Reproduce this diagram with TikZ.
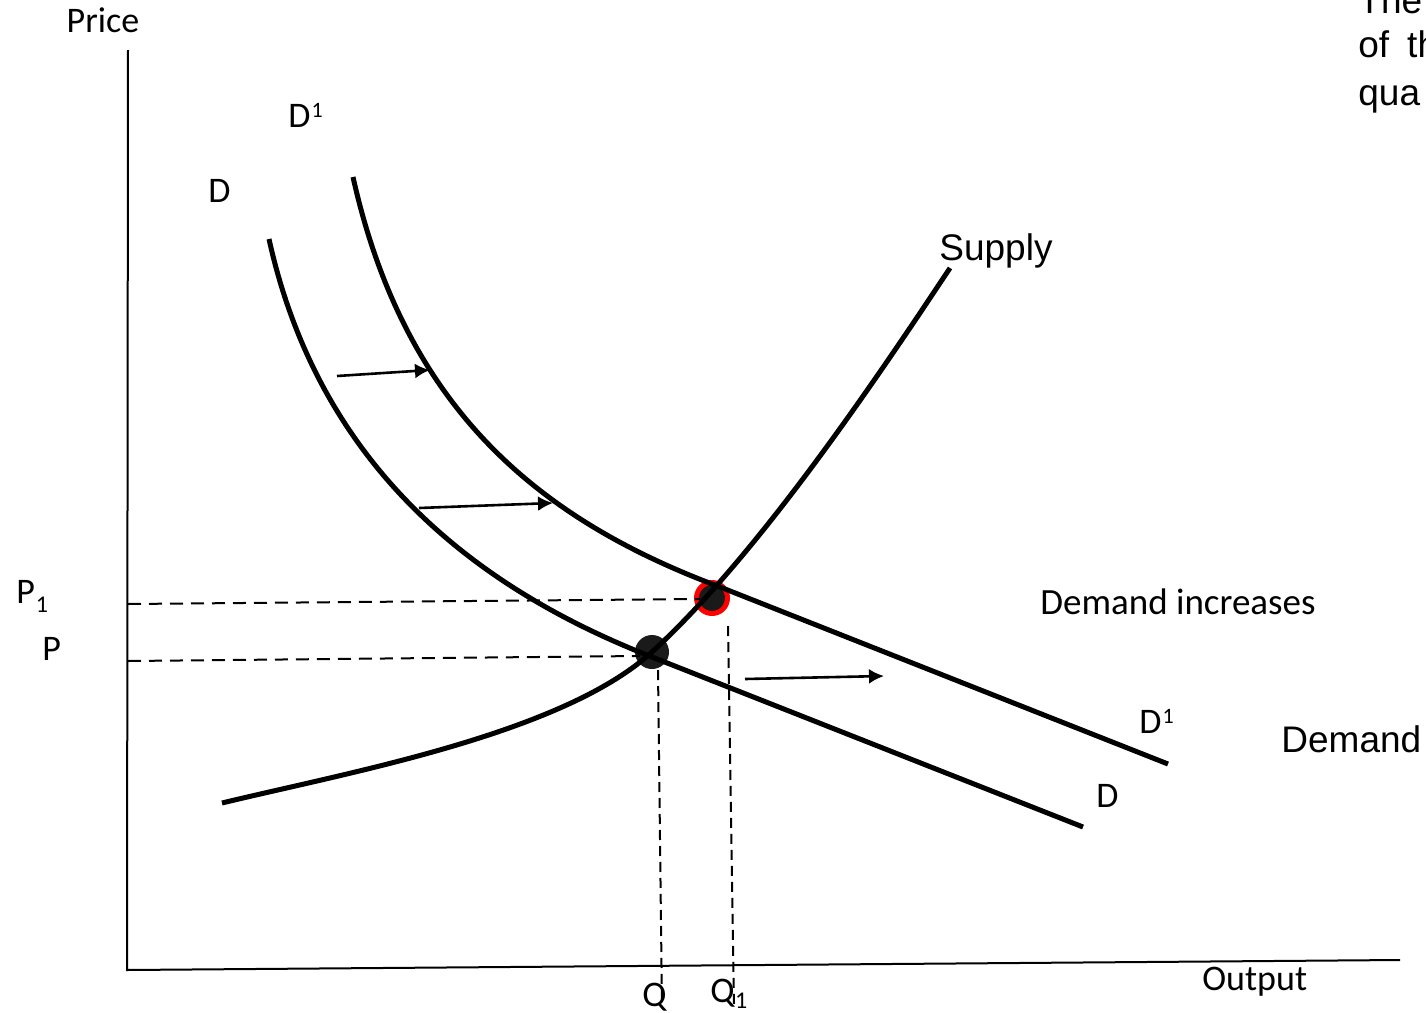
\documentclass[tikz,border=0pt]{standalone}
\usepackage{fontspec}
\setmainfont{Carlito}
\newfontfamily\arialfont{Liberation Sans}
\usetikzlibrary{arrows.meta}
\definecolor{dotblack}{HTML}{1A1A1A}
\definecolor{ringred}{HTML}{FF0000}
\newcommand{\supone}{\raisebox{5pt}{\fontsize{11}{11}\selectfont 1}}
\newcommand{\subone}{\raisebox{-4.5pt}{\fontsize{12}{12}\selectfont 1}}
\newcommand{\subonehi}{\raisebox{-3pt}{\fontsize{12}{12}\selectfont 1}}
\begin{document}
\begin{tikzpicture}[x=0.5pt,y=-0.5pt,
  lbl/.style={inner sep=0pt,anchor=base west,font=\fontsize{18}{22}\selectfont},
  albl/.style={inner sep=0pt,anchor=base west,font=\arialfont\fontsize{18.5}{22}\selectfont},
  axisline/.style={line width=1pt},
  curve/.style={line width=2.5pt},
  guide/.style={line width=1pt,dash pattern=on 6.5pt off 4pt},
  vguide/.style={line width=1pt,dash pattern=on 5pt off 3pt},
  shiftarrow/.style={line width=1.3pt,-{Latex[length=7.5pt,width=7.5pt]}},
  eqdot/.style={circle,fill=dotblack,inner sep=0pt,minimum size=17pt},
  neweq/.style={circle,fill=dotblack,draw=ringred,line width=2.5pt,inner sep=0pt,minimum size=15.5pt}]
\useasboundingbox (0,0) rectangle (1426,1013);
% axes
\coordinate (ytop) at (128,50);
\coordinate (orig) at (127,970);
\coordinate (xend) at (1400,960);
\draw[axisline] (ytop) -- (orig) -- (xend);
% equilibrium dots
\node[eqdot] (E0) at (652,652) {};
\node[neweq] (E1) at (712,598) {};
% guides
\coordinate (p1l) at (128,604);
\coordinate (p1r) at (700,599);
\coordinate (p0l) at (128,661);
\coordinate (p0r) at (640,656);
\coordinate (q0t) at (658,670);
\coordinate (q0b) at (662,1008);
\coordinate (q1t) at (728,626);
\coordinate (q1b) at (734,1004);
\draw[guide] (p1l) -- (p1r);
\draw[guide] (p0l) -- (p0r);
\draw[vguide] (q0t) -- (q0b);
\draw[vguide] (q1t) -- (q1b);
% curves
\coordinate (dtopend) at (269,239);
\coordinate (dbend) at (652,657);
\coordinate (dend) at (1083,827);
\draw[curve] (dtopend) .. controls (320,470) and (480,590) .. (dbend) -- (dend);
\coordinate (d1topend) at (353,177);
\coordinate (d1bend) at (720,587);
\coordinate (d1end) at (1168,764);
\draw[curve] (d1topend) .. controls (405,410) and (540,520) .. (d1bend) -- (d1end);
\coordinate (sstart) at (222,803);
\coordinate (send) at (950,268);
\draw[curve] (sstart) .. controls (350,772) and (562,734) .. (E0.center) .. controls (752,560) and (860,404) .. (send);
% shift arrows
\coordinate (a1s) at (337,376);
\coordinate (a1e) at (430,370);
\coordinate (a2s) at (419,508);
\coordinate (a2e) at (553,503);
\coordinate (a3s) at (745,679);
\coordinate (a3e) at (884,676);
\draw[shiftarrow] (a1s) -- (a1e);
\draw[shiftarrow] (a2s) -- (a2e);
\draw[shiftarrow] (a3s) -- (a3e);
% labels
\node[lbl,anchor=base] (price) at (103,32) {Price};
\node[lbl] (d1top) at (288,127) {D\kern0.5pt\supone};
\node[lbl] (dtop) at (208,202) {D};
\node[lbl] (p1) at (16,603) {P\kern0.5pt\subone};
\node[lbl] (p0) at (42,660) {P};
\node[lbl] (q0) at (642,1006) {Q};
\node[lbl] (q1) at (710,1002) {Q\kern0.3pt\subonehi};
\node[lbl] (output) at (1202,990) {Output};
\node[lbl,font=\fontsize{18.5}{22}\selectfont] (incr) at (1040,614) {Demand increases};
\node[lbl] (d1r) at (1139,733) {D\kern0.5pt\supone};
\node[lbl] (dr) at (1096,807) {D};
\node[albl] (supply) at (939,260) {Supply};
\node[albl] (demand) at (1281,752) {Demand};
\node[albl] (t1) at (1358,13) {The};
\node[albl] (t2) at (1358,57) {of\hspace{9pt}th};
\node[albl] (t3) at (1358,105) {qua};
\end{tikzpicture}
\end{document}
